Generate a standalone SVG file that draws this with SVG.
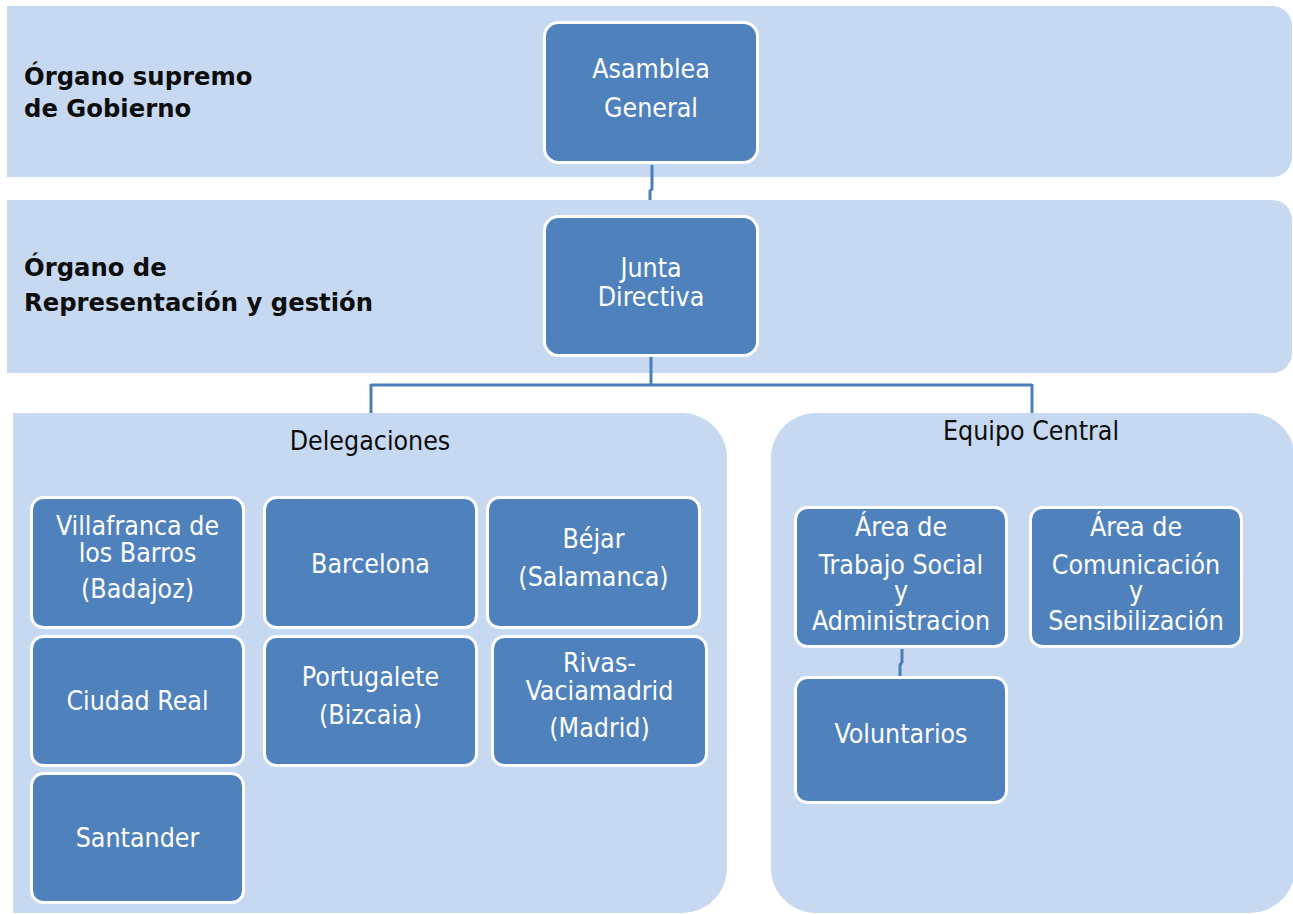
<svg xmlns="http://www.w3.org/2000/svg" width="1293" height="914" viewBox="0 0 1293 914">
  <style>
    .band { fill: #C6D9F0; }
    .box { fill: #4F81BD; stroke: #FFFFFF; stroke-width: 3; }
    .bt { font-family: "DejaVu Sans Condensed", "DejaVu Sans", Verdana, sans-serif; font-stretch: condensed; font-size: 26.5px; fill: #FFFFFF; text-anchor: middle; }
    .lbl { font-family: "DejaVu Sans", Verdana, "Liberation Sans", sans-serif; font-size: 24.3px; font-weight: bold; fill: #0D0D0D; }
    .ttl { font-family: "DejaVu Sans Condensed", "DejaVu Sans", Verdana, sans-serif; font-stretch: condensed; font-size: 26.5px; fill: #0D0D0D; text-anchor: middle; }
    .con { fill: none; stroke: #4A7EBB; stroke-width: 3; }
  </style>
  <rect x="0" y="0" width="1293" height="914" fill="#FFFFFF"/>

  <g id="band-gobierno">
    <path class="band" d="M7,6 H1272 A20,20 0 0 1 1292,26 V157 A20,20 0 0 1 1272,177 H7 Z"/>
    <text class="lbl" x="24" y="85">Órgano supremo</text>
    <text class="lbl" x="24" y="117">de Gobierno</text>
  </g>
  <g id="band-representacion">
    <path class="band" d="M7,200 H1272 A20,20 0 0 1 1292,220 V353 A20,20 0 0 1 1272,373 H7 Z"/>
    <text class="lbl" x="24" y="276">Órgano de</text>
    <text class="lbl" x="24" y="311">Representación y gestión</text>
  </g>
  <g id="panel-delegaciones">
    <path class="band" d="M13,413 H682 A45,45 0 0 1 727,458 V868 A45,45 0 0 1 682,913 H13 Z"/>
    <text class="ttl" x="370" y="450">Delegaciones</text>
  </g>
  <g id="panel-equipo">
    <rect class="band" x="771" y="413" width="524" height="500" rx="45" ry="45"/>
    <text class="ttl" x="1031" y="440">Equipo Central</text>
  </g>

  <g id="connectors">
    <path class="con" d="M652,165 V189 L650,191 V200"/>
    <path class="con" d="M651,357 V385 M371,385 H1032 M371,384 V413 M1032,384 V413"/>
    <path class="con" d="M902,649 V662 L900,665 V677"/>
  </g>

  <g id="asamblea">
    <rect class="box" x="544.5" y="22.5" width="213" height="140" rx="14"/>
    <text class="bt" x="651" y="78">Asamblea</text>
    <text class="bt" x="651" y="117">General</text>
  </g>
  <g id="junta">
    <rect class="box" x="544.5" y="216.5" width="213" height="139" rx="14"/>
    <text class="bt" x="651" y="277">Junta</text>
    <text class="bt" x="651" y="306">Directiva</text>
  </g>

  <g id="villafranca">
    <rect class="box" x="31.5" y="497.5" width="212" height="130" rx="12"/>
    <text class="bt" x="137.5" y="535">Villafranca de</text>
    <text class="bt" x="137.5" y="562">los Barros</text>
    <text class="bt" x="137.5" y="598">(Badajoz)</text>
  </g>
  <g id="barcelona">
    <rect class="box" x="264.5" y="497.5" width="212" height="130" rx="12"/>
    <text class="bt" x="370.5" y="573">Barcelona</text>
  </g>
  <g id="bejar">
    <rect class="box" x="487.5" y="497.5" width="212" height="130" rx="12"/>
    <text class="bt" x="593.5" y="548">Béjar</text>
    <text class="bt" x="593.5" y="586">(Salamanca)</text>
  </g>
  <g id="ciudad-real">
    <rect class="box" x="31.5" y="636.5" width="212" height="129" rx="12"/>
    <text class="bt" x="137.5" y="710">Ciudad Real</text>
  </g>
  <g id="portugalete">
    <rect class="box" x="264.5" y="636.5" width="212" height="129" rx="12"/>
    <text class="bt" x="370.5" y="686">Portugalete</text>
    <text class="bt" x="370.5" y="724">(Bizcaia)</text>
  </g>
  <g id="rivas">
    <rect class="box" x="492.5" y="636.5" width="214" height="129" rx="12"/>
    <text class="bt" x="599.5" y="672">Rivas-</text>
    <text class="bt" x="599.5" y="700">Vaciamadrid</text>
    <text class="bt" x="599.5" y="737">(Madrid)</text>
  </g>
  <g id="santander">
    <rect class="box" x="31.5" y="773.5" width="212" height="129" rx="12"/>
    <text class="bt" x="137.5" y="847">Santander</text>
  </g>

  <g id="area-trabajo-social">
    <rect class="box" x="795.5" y="507.5" width="211" height="139" rx="12"/>
    <text class="bt" x="901" y="536">Área de</text>
    <text class="bt" x="901" y="574">Trabajo Social</text>
    <text class="bt" x="901" y="600">y</text>
    <text class="bt" x="901" y="630">Administracion</text>
  </g>
  <g id="area-comunicacion">
    <rect class="box" x="1030.5" y="507.5" width="211" height="139" rx="12"/>
    <text class="bt" x="1136" y="536">Área de</text>
    <text class="bt" x="1136" y="574">Comunicación</text>
    <text class="bt" x="1136" y="600">y</text>
    <text class="bt" x="1136" y="630">Sensibilización</text>
  </g>
  <g id="voluntarios">
    <rect class="box" x="795.5" y="677.5" width="211" height="125" rx="12"/>
    <text class="bt" x="901" y="743">Voluntarios</text>
  </g>
</svg>
